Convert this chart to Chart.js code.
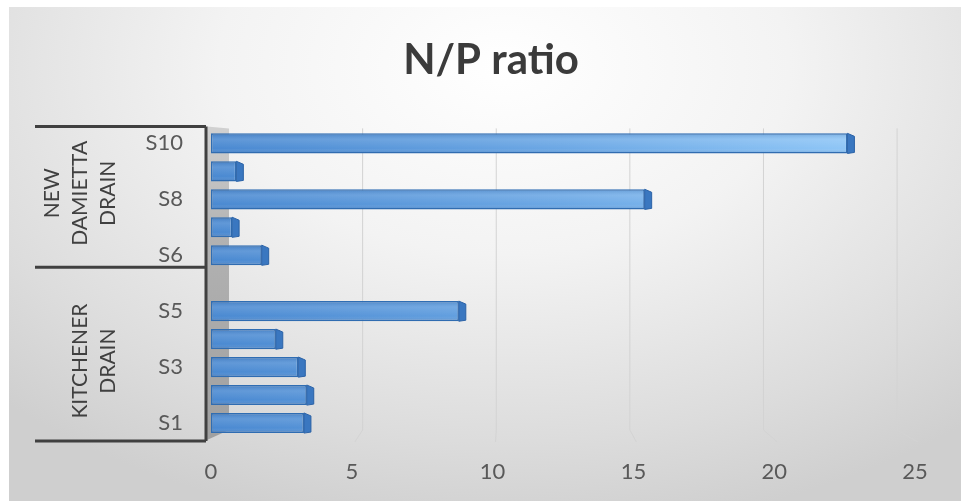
<!DOCTYPE html>
<html>
<head>
<meta charset="utf-8">
<script src="https://cdn.jsdelivr.net/npm/chart.js@4"></script>
<style>
  html, body { margin: 0; padding: 0; background: #fff; }
  #wrap {
    position: absolute; left: 9px; top: 7px; width: 952px; height: 494px;
    background: radial-gradient(ellipse 75% 95% at 52% 12%, #ffffff 0%, #f3f3f3 40%, #dcdcdc 80%, #cfcfcf 100%);
  }
</style>
</head>
<body>
<div id="wrap"><canvas id="np"></canvas></div>
<script>
// stations bottom to top, blank slot separates the two drains
const stations = ['S1', 'S2', 'S3', 'S4', 'S5', '', 'S6', 'S7', 'S8', 'S9', 'S10'];
const npRatio = [3.3, 3.4, 3.1, 2.3, 8.8, null, 1.8, 0.75, 15.4, 0.9, 22.6];
const shownLabels = ['S1', 'S3', 'S5', 'S6', 'S8', 'S10'];
const xTicks = [0, 5, 10, 15, 20, 25];
const drains = [
  { lines: ['NEW', 'DAMIETTA', 'DRAIN'], from: 'S6', to: 'S10' },
  { lines: ['KITCHENER', 'DRAIN'], from: 'S1', to: 'S5' }
];

const FONT = 'Lato, "Open Sans", sans-serif';

const barFill = (c) => {
  const a = c.chart.chartArea;
  if (!a) return '#5b9bd5';
  const g = c.chart.ctx.createLinearGradient(a.left, 0, a.right, 0);
  g.addColorStop(0, '#4a89d1');
  g.addColorStop(0.5, '#6ca8e5');
  g.addColorStop(0.92, '#90c7f7');
  g.addColorStop(1, '#9ccff9');
  return g;
};

// 3d box: left wall, back-wall grid, bar end caps, category frame
const box3d = {
  id: 'box3d',
  beforeDatasetsDraw(chart) {
    const { ctx, chartArea: a, scales: { x } } = chart;
    const backLeft = a.left + 18, k = 0.949;
    ctx.save();
    ctx.strokeStyle = '#d3d3d3';
    ctx.lineWidth = 1;
    xTicks.slice(1).forEach(v => {
      const xf = x.getPixelForValue(v);
      const xb = backLeft + (xf - a.left) * k;
      ctx.beginPath();
      ctx.moveTo(xb, a.top - 1);
      ctx.lineTo(xb, a.bottom - 7);
      ctx.lineTo(xf + 3, a.bottom + 5);
      ctx.stroke();
    });
    const g = ctx.createLinearGradient(0, a.top, 0, a.bottom);
    g.addColorStop(0, '#d0d0d0');
    g.addColorStop(0.35, '#b2b2b2');
    g.addColorStop(1, '#a0a0a0');
    ctx.fillStyle = g;
    ctx.beginPath();
    ctx.moveTo(a.left - 4, a.top - 3);
    ctx.lineTo(backLeft, a.top - 1);
    ctx.lineTo(backLeft, a.bottom - 7);
    ctx.lineTo(a.left - 4, a.bottom + 3);
    ctx.closePath();
    ctx.fill();
    ctx.restore();
  },
  afterDatasetsDraw(chart) {
    const { ctx } = chart;
    const meta = chart.getDatasetMeta(0);
    ctx.save();
    meta.data.forEach((bar, i) => {
      if (npRatio[i] == null) return;
      const { x, y, base, height } = bar.getProps(['x', 'y', 'base', 'height'], true);
      const top = y - height / 2, bot = y + height / 2;
      // shading across the front face
      const sh = ctx.createLinearGradient(0, top, 0, bot);
      sh.addColorStop(0, 'rgba(20,60,120,0.18)');
      sh.addColorStop(0.3, 'rgba(255,255,255,0.12)');
      sh.addColorStop(0.75, 'rgba(255,255,255,0)');
      sh.addColorStop(1, 'rgba(20,60,120,0.25)');
      ctx.fillStyle = sh;
      ctx.fillRect(base + 1, top + 1, x - base - 2, height - 2);
      // end cap
      ctx.beginPath();
      ctx.moveTo(x, top);
      ctx.lineTo(x + 7, top + 3);
      ctx.lineTo(x + 7, bot - 1);
      ctx.lineTo(x, bot);
      ctx.closePath();
      ctx.fillStyle = '#3a77c0';
      ctx.fill();
      ctx.strokeStyle = '#2b62a6';
      ctx.lineWidth = 1;
      ctx.stroke();
    });
    ctx.restore();
  },
  afterDraw(chart) {
    const { ctx, chartArea: a, scales: { y } } = chart;
    const axisX = a.left - 5;
    const frameLeft = 26;
    const half = (y.getPixelForValue(1) - y.getPixelForValue(0)) / 2;
    const yTop = y.getPixelForValue(stations.length - 1) + half - 3;
    const yMid = y.getPixelForValue(stations.indexOf('')) + half - 2;
    const yBot = y.getPixelForValue(0) - half + 4;
    ctx.save();
    ctx.strokeStyle = '#404040';
    ctx.lineWidth = 3;
    ctx.beginPath();
    ctx.moveTo(axisX, yTop);
    ctx.lineTo(axisX, yBot);
    [yTop, yMid, yBot].forEach(yy => {
      ctx.moveTo(frameLeft, yy);
      ctx.lineTo(axisX, yy);
    });
    ctx.stroke();

    ctx.fillStyle = '#404040';
    ctx.font = '21px ' + FONT;
    ctx.textAlign = 'center';
    ctx.textBaseline = 'middle';
    drains.forEach(d => {
      const y1 = y.getPixelForValue(stations.indexOf(d.from));
      const y2 = y.getPixelForValue(stations.indexOf(d.to));
      const cy = (y1 + y2) / 2 - 6;
      const n = d.lines.length;
      d.lines.forEach((t, j) => {
        const cx = 99 - (n - 1 - j) * 28;
        ctx.save();
        ctx.translate(cx, cy);
        ctx.rotate(-Math.PI / 2);
        ctx.fillText(t, 0, 0);
        ctx.restore();
      });
    });
    ctx.restore();
  }
};

new Chart(document.getElementById('np'), {
  type: 'bar',
  data: {
    labels: stations,
    datasets: [{
      label: 'N/P ratio',
      data: npRatio,
      backgroundColor: barFill,
      borderColor: '#2f6db3',
      borderWidth: 1.5,
      borderSkipped: false,
      categoryPercentage: 1,
      barPercentage: 0.72
    }]
  },
  options: {
    indexAxis: 'y',
    responsive: true,
    maintainAspectRatio: false,
    animation: false,
    layout: { padding: { left: 58, right: 46, top: 0, bottom: 0 } },
    plugins: {
      legend: { display: false },
      tooltip: { enabled: false },
      title: {
        display: true,
        text: 'N/P ratio',
        color: '#3b3b3b',
        font: { family: FONT, size: 42, weight: 'bold', lineHeight: 1.2 },
        padding: { top: 28, bottom: 44 }
      }
    },
    scales: {
      x: {
        min: 0, max: 25,
        afterBuildTicks: s => { s.ticks = xTicks.map(v => ({ value: v })); },
        grid: { display: false, drawTicks: false },
        border: { display: false },
        ticks: { color: '#595959', padding: 22, font: { family: FONT, size: 22 } },
        afterFit: s => { s.height = 64; }
      },
      y: {
        reverse: true,
        grid: { display: false, drawTicks: false },
        border: { display: false },
        ticks: {
          autoSkip: false,
          color: '#595959',
          padding: 28,
          font: { family: FONT, size: 22 },
          callback: function (v) {
            const l = this.getLabelForValue(v);
            return shownLabels.includes(l) ? l : '';
          }
        },
        afterFit: s => { s.width = 144; }
      }
    }
  },
  plugins: [box3d]
});
</script>
</body>
</html>
